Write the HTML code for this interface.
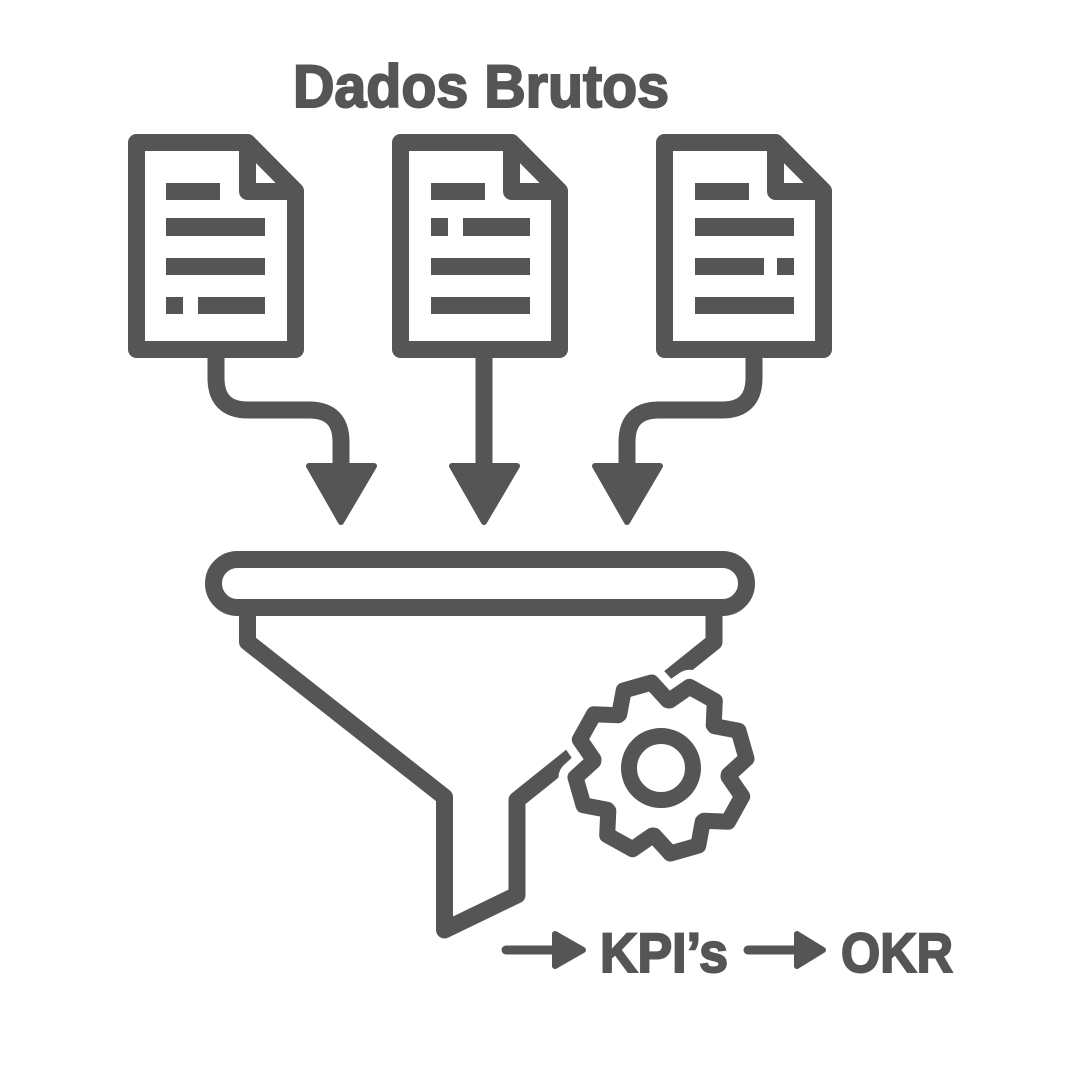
<!DOCTYPE html>
<html><head><meta charset="utf-8"><style>html,body{margin:0;padding:0;background:#fff}svg{display:block}</style></head>
<body>
<svg id="s" width="1080" height="1080" viewBox="0 0 1080 1080" xmlns="http://www.w3.org/2000/svg">
<g fill="none" stroke="#555" stroke-width="17" stroke-linejoin="round" stroke-linecap="butt">
  <path d="M136.5,142.5 H247.5 L295.5,191 V349.5 H136.5 Z M247.5,142.5 V191.5 H295.5"/>
  <path transform="translate(264,0)" d="M136.5,142.5 H247.5 L295.5,191 V349.5 H136.5 Z M247.5,142.5 V191.5 H295.5"/>
  <path transform="translate(528,0)" d="M136.5,142.5 H247.5 L295.5,191 V349.5 H136.5 Z M247.5,142.5 V191.5 H295.5"/>
  <path d="M216,358 V378 Q216,410 248,410 H309 Q341,410 341,442 V468"/>
  <path d="M484,358 V468"/>
  <path d="M754,358 V378 Q754,410 722,410 H659 Q627,410 627,442 V468"/>
  <rect x="213.5" y="559.5" width="533" height="48" rx="24"/>
  <path d="M247.5,616 V642 L444.5,797 V930 L517,895 V800 L714,642 V616"/>
</g>
<g fill="#555">
  <rect x="166" y="183" width="54" height="17"/><rect x="166" y="218" width="99" height="18"/><rect x="166" y="258" width="99" height="17"/><rect x="166" y="297" width="17" height="17"/><rect x="198" y="297" width="67" height="17"/>
  <rect x="431" y="183" width="54" height="17"/><rect x="431" y="218" width="17" height="18"/><rect x="463" y="218" width="67" height="18"/><rect x="431" y="258" width="99" height="17"/><rect x="431" y="297" width="99" height="17"/>
  <rect x="695" y="183" width="54" height="17"/><rect x="695" y="218" width="99" height="18"/><rect x="695" y="258" width="69" height="17"/><rect x="777" y="258" width="17" height="17"/><rect x="695" y="297" width="99" height="17"/>
</g>
<g fill="#555" stroke="#555" stroke-width="6" stroke-linejoin="round">
  <polygon points="309,466 374,466 341,522"/>
  <polygon points="452,466 517,466 484,522"/>
  <polygon points="595,466 660,466 627,522"/>
  <polygon points="555,934 583,950 555,966"/>
  <polygon points="797,934 823,950 797,966"/>
</g>
<g stroke="#555" stroke-width="9" stroke-linecap="round">
  <line x1="506" y1="950" x2="556" y2="950"/>
  <line x1="748" y1="950" x2="798" y2="950"/>
</g>
<path id="gw" fill="#fff" stroke="#fff" stroke-width="34" stroke-linejoin="round"/>
<path id="gg" fill="#fff" stroke="#555" stroke-width="16" stroke-linejoin="round"/>
<circle cx="661" cy="768" r="32" fill="none" stroke="#555" stroke-width="16"/>
<g font-family="Liberation Sans, sans-serif" font-weight="bold" fill="#555" stroke="#555" stroke-width="2">
  <text x="293" y="107" font-size="60" textLength="376" lengthAdjust="spacingAndGlyphs">Dados Brutos</text>
  <text x="600" y="972" font-size="56" textLength="128" lengthAdjust="spacingAndGlyphs">KPI’s</text>
  <text x="841" y="972" font-size="56" textLength="112" lengthAdjust="spacingAndGlyphs">OKR</text>
</g>
<script>
(function(){var cx=661,cy=768,ro=86,ri=68,d='';
for(var i=0;i<8;i++){var a=(-106+i*45)*Math.PI/180;
var pts=[[ri,a-0.38],[ro,a-0.17],[ro,a+0.17],[ri,a+0.38]];
pts.forEach(function(p,j){var x=cx+p[0]*Math.cos(p[1]),y=cy+p[0]*Math.sin(p[1]);d+=(i==0&&j==0?'M':'L')+x.toFixed(1)+','+y.toFixed(1);});}
d+='Z';document.getElementById('gw').setAttribute('d',d);document.getElementById('gg').setAttribute('d',d);})();
</script>
</svg>
</body></html>
